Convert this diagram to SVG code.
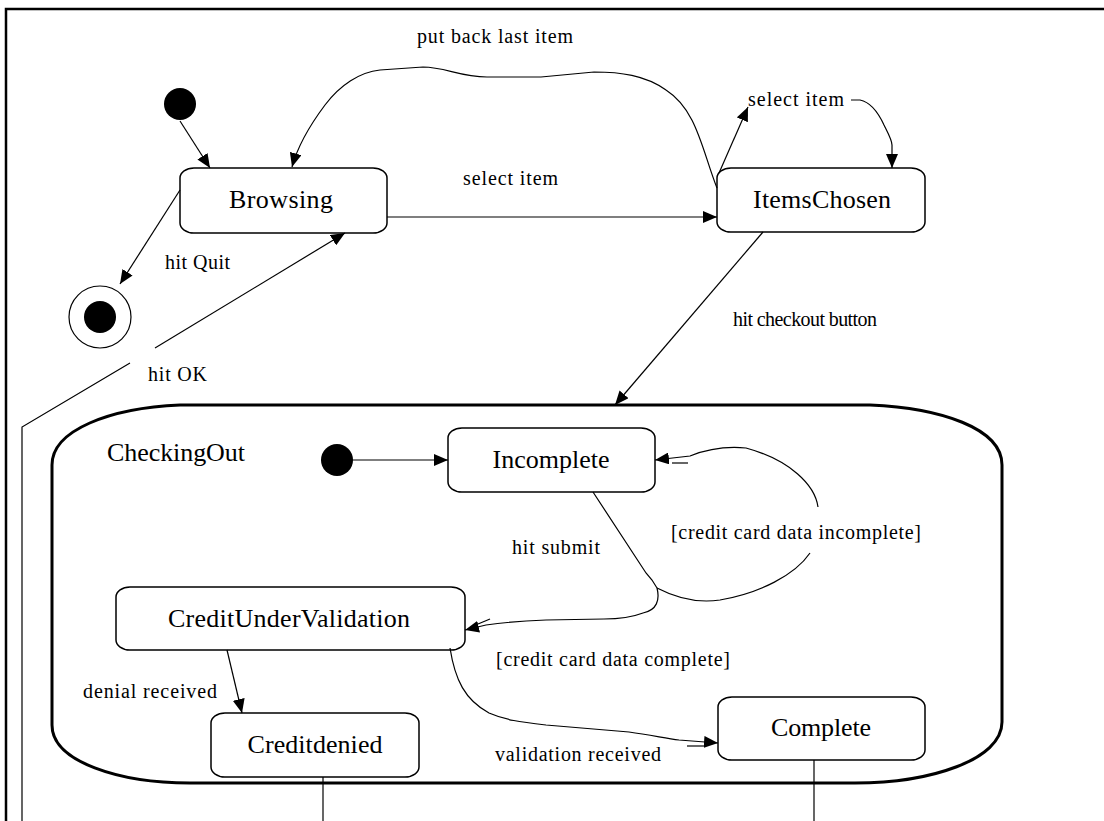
<svg xmlns="http://www.w3.org/2000/svg" width="1104" height="821" viewBox="0 0 1104 821">
<defs>
<style>
.frame{fill:none;stroke:#000;stroke-width:2.5}
.state{fill:#fff;stroke:#000;stroke-width:1.5}
.comp{fill:none;stroke:#000;stroke-width:3}
.edge{fill:none;stroke:#000;stroke-width:1.2}
.arr{marker-end:url(#ah)}
.nl{font-family:"Liberation Serif","Times New Roman",serif;font-size:26px;fill:#000;text-anchor:middle}
.el{font-family:"Liberation Serif","Times New Roman",serif;font-size:20px;fill:#000}
.dot{fill:#000}
</style>
<marker id="ah" viewBox="0 0 14 12" refX="14" refY="6" markerWidth="14" markerHeight="12" orient="auto" markerUnits="userSpaceOnUse">
<path d="M0,0 L14,6 L0,12 Z" fill="#000"/>
</marker>
</defs>
<rect width="1104" height="821" fill="#fff"/>
<path class="frame" d="M6,821 L6,9 L1104,9"/>

<g id="CheckingOut">
<path class="comp" d="M180,405 L870,405 C940,408 1002,428 1002,465 L1002,722 C1002,760 930,783 855,783 L190,783 C120,783 52,762 52,725 L52,465 C52,430 110,408 180,405 Z"/>
<text class="el" x="107" y="461" style="font-size:26px" textLength="138">CheckingOut</text>
</g>

<g id="initial-top"><circle class="dot" cx="180" cy="104" r="16"/></g>
<g id="final"><circle cx="100" cy="317" r="31" fill="#fff" stroke="#000" stroke-width="1.2"/><circle class="dot" cx="100" cy="317" r="16"/></g>
<g id="initial-inner"><circle class="dot" cx="337" cy="460" r="16"/></g>

<g id="Browsing"><rect class="state" x="180" y="168" width="207" height="65" rx="14" ry="10"/><text class="nl" x="281" y="208" textLength="104">Browsing</text></g>
<g id="ItemsChosen"><rect class="state" x="717" y="168" width="208" height="64" rx="14" ry="10"/><text class="nl" x="822" y="208" textLength="138">ItemsChosen</text></g>
<g id="Incomplete"><rect class="state" x="448" y="428" width="207" height="64" rx="14" ry="10"/><text class="nl" x="551" y="468" textLength="117">Incomplete</text></g>
<g id="CreditUnderValidation"><rect class="state" x="116" y="587" width="349" height="63" rx="14" ry="10"/><text class="nl" x="289" y="627" textLength="242">CreditUnderValidation</text></g>
<g id="Creditdenied"><rect class="state" x="211" y="713" width="208" height="64" rx="14" ry="10"/><text class="nl" x="315" y="753" textLength="135">Creditdenied</text></g>
<g id="Complete"><rect class="state" x="718" y="697" width="207" height="63" rx="14" ry="10"/><text class="nl" x="821" y="736" textLength="100">Complete</text></g>

<g id="connectors">
<path class="edge arr" d="M180,121 L210,168"/>
<path class="edge arr" d="M180,190 L120,284"/>
<path class="edge arr" d="M387,217 L717,217"/>
<path class="edge arr" d="M717,188 C702,150 697,110 666,90 C645,75 620,72 594,72 L541,77 L487,77 C460,77 445,67 423,67 L380,70 C360,72 340,85 325,105 C310,125 298,145 292,167"/>
<path class="edge arr" d="M719,173 L748,107"/>
<path class="edge arr" d="M851,100 L860,100 C870,102 878,112 884,125 C888,133 892,140 892,145 L892,168"/>
<path class="edge arr" d="M763,232 L615,405"/>
<path class="edge arr" d="M155,348 L345,233"/>
<path class="edge" d="M130,363 L22,427 L22,821"/>
<path class="edge arr" d="M353,460 L448,460"/>
<path class="edge" d="M593,492 L646,573 L652,580 L657,588"/>
<path class="edge" d="M657,588 C680,600 700,603 720,600 C760,593 795,575 810,553"/>
<path class="edge arr" d="M818,507 C815,485 790,460 746,448 C725,446 705,450 690,456 L655,460"/>
<path class="edge" d="M672,463 L688,463"/>
<path class="edge arr" d="M657,588 C660,600 657,610 643,613 C630,618 615,619 604,619 L546,620 C520,621 500,623 486,625 L465,630"/>
<path class="edge" d="M478,624 L490,619"/>
<path class="edge arr" d="M227,650 L242,713"/>
<path class="edge arr" d="M450,648 C455,680 465,700 489,713 C505,720 520,722 546,725 L629,732 C650,735 665,738 679,740 L718,743"/>
<path class="edge" d="M687,746 L704,746"/>
<path class="edge" d="M323,777 L323,821"/>
<path class="edge" d="M814,760 L814,821"/>
</g>

<g id="labels">
<text class="el" x="417" y="43" textLength="156">put back last item</text>
<text class="el" x="748" y="106" textLength="96">select item</text>
<text class="el" x="463" y="185" textLength="95">select item</text>
<text class="el" x="165" y="269" textLength="65">hit Quit</text>
<text class="el" x="148" y="381" textLength="59">hit OK</text>
<text class="el" x="733" y="326" textLength="144">hit checkout button</text>
<text class="el" x="512" y="554" textLength="88">hit submit</text>
<text class="el" x="671" y="539" textLength="250">[credit card data incomplete]</text>
<text class="el" x="496" y="666" textLength="234">[credit card data complete]</text>
<text class="el" x="83" y="698" textLength="134">denial received</text>
<text class="el" x="495" y="761" textLength="166">validation received</text>
</g>
</svg>
